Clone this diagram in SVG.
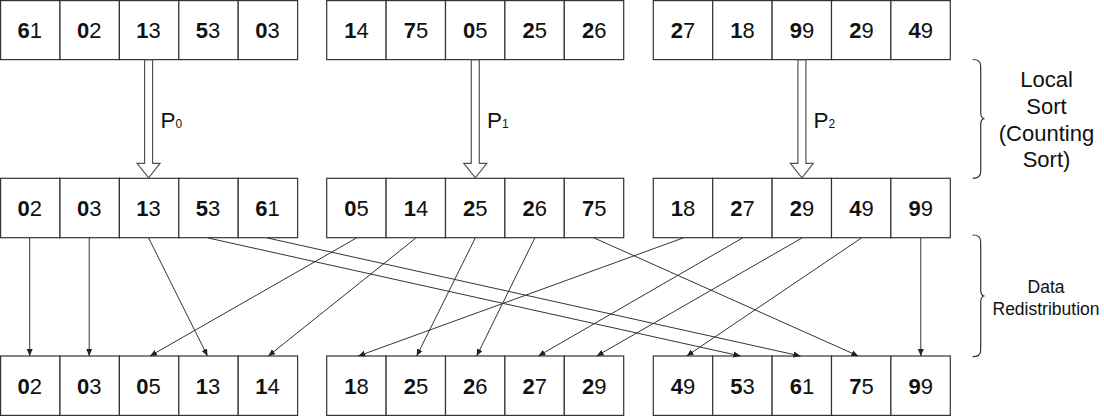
<svg xmlns="http://www.w3.org/2000/svg" width="1104" height="417" viewBox="0 0 1104 417">
<defs>
<style>
.cell rect{fill:#fff;stroke:#333;stroke-width:1.2}
.cell text{font-family:"Liberation Sans",Arial,sans-serif;font-size:22px;fill:#111;text-anchor:middle}
.b{font-weight:bold}
.hollow{fill:#fff;stroke:#555;stroke-width:1.2}
.lbl{font-family:"Liberation Sans",Arial,sans-serif;fill:#111}
.conn line{stroke:#333;stroke-width:1}
.brace{fill:none;stroke:#333;stroke-width:1.2}
</style>
<marker id="ah" markerUnits="userSpaceOnUse" markerWidth="8" markerHeight="8" viewBox="0 0 8 8" refX="7" refY="4" orient="auto">
<path d="M0,1 L7,4 L0,7 Z" fill="#222"/>
</marker>
</defs>
<rect width="1104" height="417" fill="#fff"/>

<!-- Row 1 -->
<g id="r1g0c0" class="cell"><rect x="0.6" y="0.6" width="59.4" height="59"/><text x="29.7" y="38.3"><tspan class="b">6</tspan>1</text></g>
<g id="r1g0c1" class="cell"><rect x="60" y="0.6" width="59.4" height="59"/><text x="89.2" y="38.3"><tspan class="b">0</tspan>2</text></g>
<g id="r1g0c2" class="cell"><rect x="119.4" y="0.6" width="59.4" height="59"/><text x="148.6" y="38.3"><tspan class="b">1</tspan>3</text></g>
<g id="r1g0c3" class="cell"><rect x="178.8" y="0.6" width="59.4" height="59"/><text x="208.1" y="38.3"><tspan class="b">5</tspan>3</text></g>
<g id="r1g0c4" class="cell"><rect x="238.2" y="0.6" width="59.4" height="59"/><text x="267.5" y="38.3"><tspan class="b">0</tspan>3</text></g>

<g id="r1g1c0" class="cell"><rect x="326.7" y="0.6" width="59.4" height="59"/><text x="356.4" y="38.3"><tspan class="b">1</tspan>4</text></g>
<g id="r1g1c1" class="cell"><rect x="386.1" y="0.6" width="59.4" height="59"/><text x="415.9" y="38.3"><tspan class="b">7</tspan>5</text></g>
<g id="r1g1c2" class="cell"><rect x="445.5" y="0.6" width="59.4" height="59"/><text x="475.3" y="38.3"><tspan class="b">0</tspan>5</text></g>
<g id="r1g1c3" class="cell"><rect x="504.9" y="0.6" width="59.4" height="59"/><text x="534.8" y="38.3"><tspan class="b">2</tspan>5</text></g>
<g id="r1g1c4" class="cell"><rect x="564.3" y="0.6" width="59.4" height="59"/><text x="594.2" y="38.3"><tspan class="b">2</tspan>6</text></g>

<g id="r1g2c0" class="cell"><rect x="653.3" y="0.6" width="59.4" height="59"/><text x="683" y="38.3"><tspan class="b">2</tspan>7</text></g>
<g id="r1g2c1" class="cell"><rect x="712.7" y="0.6" width="59.4" height="59"/><text x="742.5" y="38.3"><tspan class="b">1</tspan>8</text></g>
<g id="r1g2c2" class="cell"><rect x="772.1" y="0.6" width="59.4" height="59"/><text x="801.9" y="38.3"><tspan class="b">9</tspan>9</text></g>
<g id="r1g2c3" class="cell"><rect x="831.5" y="0.6" width="59.4" height="59"/><text x="861.4" y="38.3"><tspan class="b">2</tspan>9</text></g>
<g id="r1g2c4" class="cell"><rect x="890.9" y="0.6" width="59.4" height="59"/><text x="920.8" y="38.3"><tspan class="b">4</tspan>9</text></g>

<!-- Row 2 -->
<g id="r2g0c0" class="cell"><rect x="0.6" y="178.3" width="59.4" height="59.4"/><text x="29.7" y="215.8"><tspan class="b">0</tspan>2</text></g>
<g id="r2g0c1" class="cell"><rect x="60" y="178.3" width="59.4" height="59.4"/><text x="89.2" y="215.8"><tspan class="b">0</tspan>3</text></g>
<g id="r2g0c2" class="cell"><rect x="119.4" y="178.3" width="59.4" height="59.4"/><text x="148.6" y="215.8"><tspan class="b">1</tspan>3</text></g>
<g id="r2g0c3" class="cell"><rect x="178.8" y="178.3" width="59.4" height="59.4"/><text x="208.1" y="215.8"><tspan class="b">5</tspan>3</text></g>
<g id="r2g0c4" class="cell"><rect x="238.2" y="178.3" width="59.4" height="59.4"/><text x="267.5" y="215.8"><tspan class="b">6</tspan>1</text></g>

<g id="r2g1c0" class="cell"><rect x="326.7" y="178.3" width="59.4" height="59.4"/><text x="356.4" y="215.8"><tspan class="b">0</tspan>5</text></g>
<g id="r2g1c1" class="cell"><rect x="386.1" y="178.3" width="59.4" height="59.4"/><text x="415.9" y="215.8"><tspan class="b">1</tspan>4</text></g>
<g id="r2g1c2" class="cell"><rect x="445.5" y="178.3" width="59.4" height="59.4"/><text x="475.3" y="215.8"><tspan class="b">2</tspan>5</text></g>
<g id="r2g1c3" class="cell"><rect x="504.9" y="178.3" width="59.4" height="59.4"/><text x="534.8" y="215.8"><tspan class="b">2</tspan>6</text></g>
<g id="r2g1c4" class="cell"><rect x="564.3" y="178.3" width="59.4" height="59.4"/><text x="594.2" y="215.8"><tspan class="b">7</tspan>5</text></g>

<g id="r2g2c0" class="cell"><rect x="653.3" y="178.3" width="59.4" height="59.4"/><text x="683" y="215.8"><tspan class="b">1</tspan>8</text></g>
<g id="r2g2c1" class="cell"><rect x="712.7" y="178.3" width="59.4" height="59.4"/><text x="742.5" y="215.8"><tspan class="b">2</tspan>7</text></g>
<g id="r2g2c2" class="cell"><rect x="772.1" y="178.3" width="59.4" height="59.4"/><text x="801.9" y="215.8"><tspan class="b">2</tspan>9</text></g>
<g id="r2g2c3" class="cell"><rect x="831.5" y="178.3" width="59.4" height="59.4"/><text x="861.4" y="215.8"><tspan class="b">4</tspan>9</text></g>
<g id="r2g2c4" class="cell"><rect x="890.9" y="178.3" width="59.4" height="59.4"/><text x="920.8" y="215.8"><tspan class="b">9</tspan>9</text></g>

<!-- Row 3 -->
<g id="r3g0c0" class="cell"><rect x="0.6" y="356" width="59.4" height="59.4"/><text x="29.7" y="393.6"><tspan class="b">0</tspan>2</text></g>
<g id="r3g0c1" class="cell"><rect x="60" y="356" width="59.4" height="59.4"/><text x="89.2" y="393.6"><tspan class="b">0</tspan>3</text></g>
<g id="r3g0c2" class="cell"><rect x="119.4" y="356" width="59.4" height="59.4"/><text x="148.6" y="393.6"><tspan class="b">0</tspan>5</text></g>
<g id="r3g0c3" class="cell"><rect x="178.8" y="356" width="59.4" height="59.4"/><text x="208.1" y="393.6"><tspan class="b">1</tspan>3</text></g>
<g id="r3g0c4" class="cell"><rect x="238.2" y="356" width="59.4" height="59.4"/><text x="267.5" y="393.6"><tspan class="b">1</tspan>4</text></g>

<g id="r3g1c0" class="cell"><rect x="326.7" y="356" width="59.4" height="59.4"/><text x="356.4" y="393.6"><tspan class="b">1</tspan>8</text></g>
<g id="r3g1c1" class="cell"><rect x="386.1" y="356" width="59.4" height="59.4"/><text x="415.9" y="393.6"><tspan class="b">2</tspan>5</text></g>
<g id="r3g1c2" class="cell"><rect x="445.5" y="356" width="59.4" height="59.4"/><text x="475.3" y="393.6"><tspan class="b">2</tspan>6</text></g>
<g id="r3g1c3" class="cell"><rect x="504.9" y="356" width="59.4" height="59.4"/><text x="534.8" y="393.6"><tspan class="b">2</tspan>7</text></g>
<g id="r3g1c4" class="cell"><rect x="564.3" y="356" width="59.4" height="59.4"/><text x="594.2" y="393.6"><tspan class="b">2</tspan>9</text></g>

<g id="r3g2c0" class="cell"><rect x="653.3" y="356" width="59.4" height="59.4"/><text x="683" y="393.6"><tspan class="b">4</tspan>9</text></g>
<g id="r3g2c1" class="cell"><rect x="712.7" y="356" width="59.4" height="59.4"/><text x="742.5" y="393.6"><tspan class="b">5</tspan>3</text></g>
<g id="r3g2c2" class="cell"><rect x="772.1" y="356" width="59.4" height="59.4"/><text x="801.9" y="393.6"><tspan class="b">6</tspan>1</text></g>
<g id="r3g2c3" class="cell"><rect x="831.5" y="356" width="59.4" height="59.4"/><text x="861.4" y="393.6"><tspan class="b">7</tspan>5</text></g>
<g id="r3g2c4" class="cell"><rect x="890.9" y="356" width="59.4" height="59.4"/><text x="920.8" y="393.6"><tspan class="b">9</tspan>9</text></g>

<!-- Local sort hollow arrows -->
<g id="sortArrows">
<path class="hollow" d="M144.6,60 V163.3 H137.1 L148.6,177.8 L160.1,163.3 H152.6 V60 Z"/>
<path class="hollow" d="M471.3,60 V163.3 H463.8 L475.3,177.8 L486.8,163.3 H479.3 V60 Z"/>
<path class="hollow" d="M797.9,60 V163.3 H790.4 L801.9,177.8 L813.4,163.3 H805.9 V60 Z"/>
<text class="lbl" x="160.5" y="127.8" font-size="22.5">P<tspan font-size="12">0</tspan></text>
<text class="lbl" x="487" y="127.8" font-size="22.5">P<tspan font-size="12">1</tspan></text>
<text class="lbl" x="813.5" y="127.8" font-size="22.5">P<tspan font-size="12">2</tspan></text>
</g>

<!-- Redistribution connectors -->
<g id="connectors" class="conn">
<line x1="29.7" y1="238" x2="29.7" y2="356" marker-end="url(#ah)"/>
<line x1="89.2" y1="238" x2="89.2" y2="356" marker-end="url(#ah)"/>
<line x1="148.6" y1="238" x2="207.5" y2="356" marker-end="url(#ah)"/>
<line x1="208.1" y1="238" x2="740.5" y2="356" marker-end="url(#ah)"/>
<line x1="267.5" y1="238" x2="800.5" y2="356" marker-end="url(#ah)"/>
<line x1="356.4" y1="238" x2="150" y2="356" marker-end="url(#ah)"/>
<line x1="415.9" y1="238" x2="268.3" y2="356" marker-end="url(#ah)"/>
<line x1="475.3" y1="238" x2="416.7" y2="356" marker-end="url(#ah)"/>
<line x1="534.8" y1="238" x2="476.7" y2="356" marker-end="url(#ah)"/>
<line x1="594.2" y1="238" x2="858.3" y2="356" marker-end="url(#ah)"/>
<line x1="683" y1="238" x2="358.3" y2="356" marker-end="url(#ah)"/>
<line x1="742.5" y1="238" x2="538.3" y2="356" marker-end="url(#ah)"/>
<line x1="801.9" y1="238" x2="596.7" y2="356" marker-end="url(#ah)"/>
<line x1="861.4" y1="238" x2="686.7" y2="356" marker-end="url(#ah)"/>
<line x1="920.8" y1="238" x2="920.8" y2="356" marker-end="url(#ah)"/>
</g>

<!-- Braces and stage labels -->
<g id="braceLocal">
<path class="brace" d="M972.7,59.5 Q980.7,59.5 980.7,66 V112 Q980.7,118.6 984.5,118.6 Q980.7,118.6 980.7,125 V172 Q980.7,178.3 972.7,178.3"/>
<text class="lbl" font-size="22" text-anchor="middle"><tspan x="1046.5" y="87.3">Local</tspan><tspan x="1046.5" y="113.5">Sort</tspan><tspan x="1046.5" y="141.3">(Counting</tspan><tspan x="1046.5" y="167">Sort)</tspan></text>
</g>
<g id="braceRedist">
<path class="brace" d="M972.7,235 Q980.7,235 980.7,241.5 V289.5 Q980.7,296 984.5,296 Q980.7,296 980.7,302.5 V350.2 Q980.7,356.7 972.7,356.7"/>
<text class="lbl" font-size="17.5" text-anchor="middle"><tspan x="1046" y="293">Data</tspan><tspan x="1046" y="315">Redistribution</tspan></text>
</g>
</svg>
